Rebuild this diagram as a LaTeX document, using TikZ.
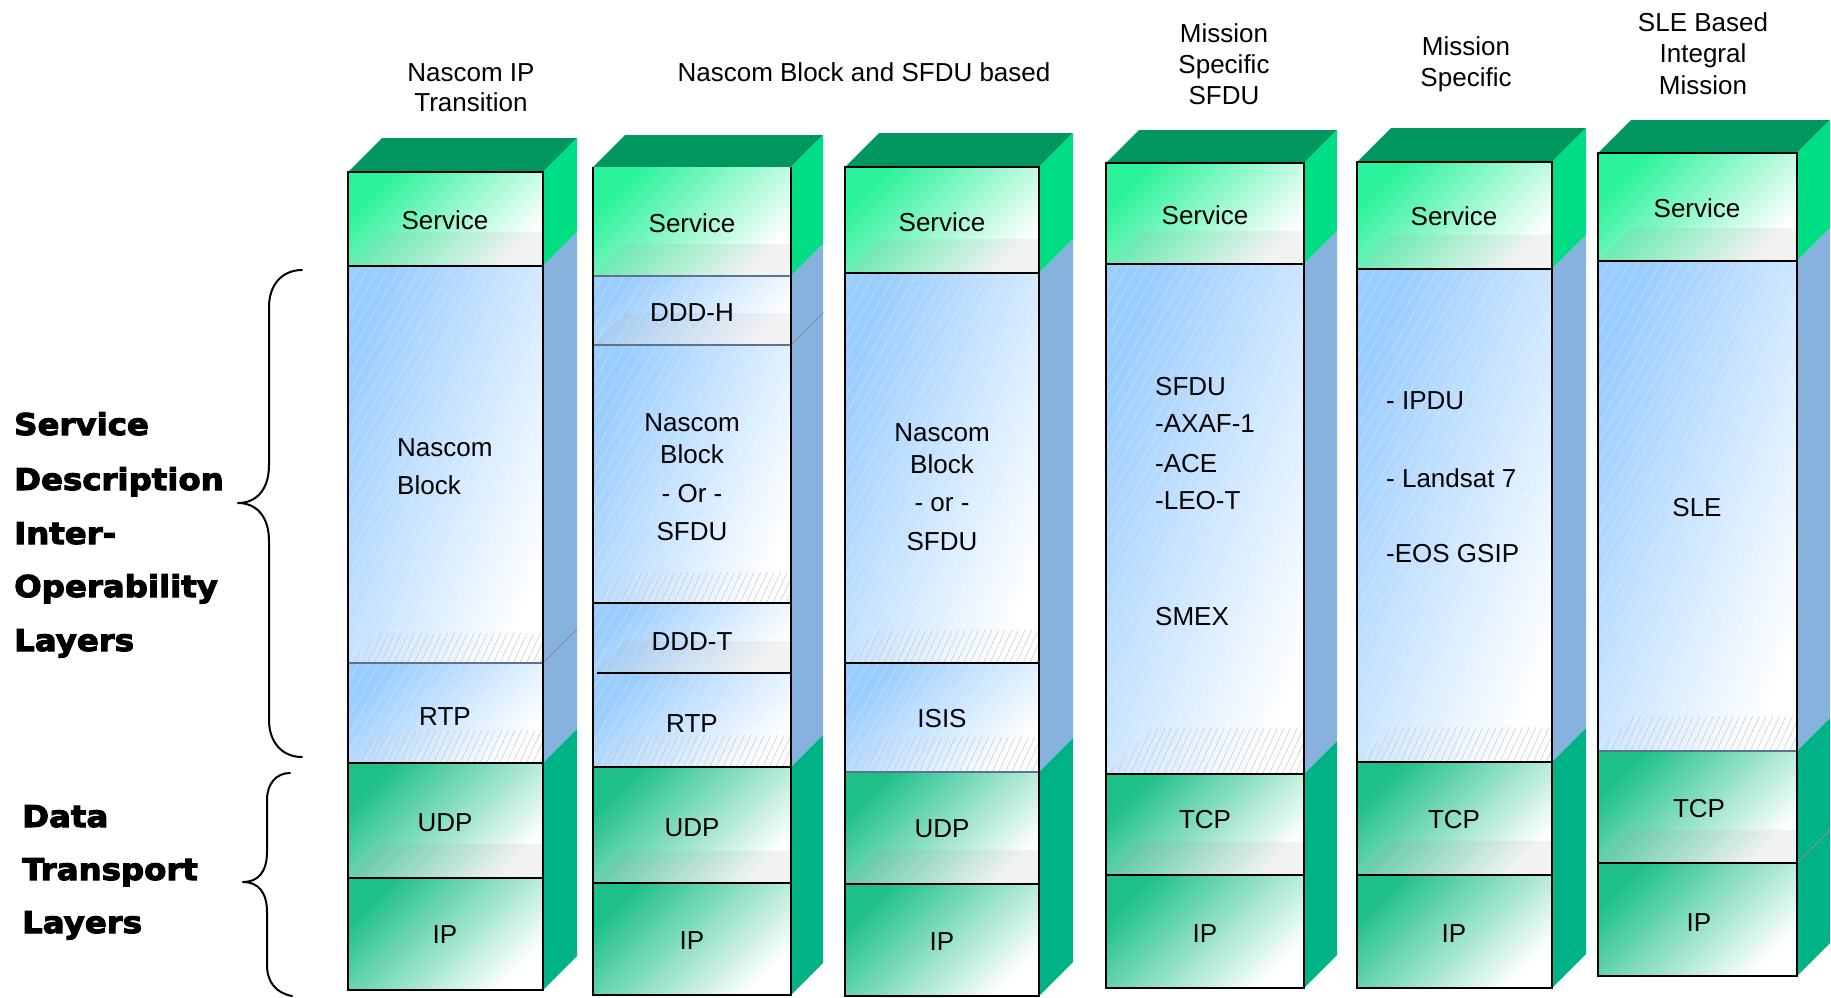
\documentclass[tikz,border=0pt]{standalone}
\usepackage{fontspec}
\setmainfont{Liberation Sans}
\newfontfamily\sidefont[FakeStretch=1.08,FakeBold=3.5]{DejaVu Sans Bold}
\usetikzlibrary{patterns.meta,shadings}

\definecolor{topC}{HTML}{00965F}
\definecolor{sideSvc}{HTML}{00DE85}
\definecolor{sideBlue}{HTML}{88B2DE}
\definecolor{sideNet}{HTML}{00B386}
\definecolor{svcC}{HTML}{2AF29A}
\definecolor{blueC}{HTML}{99CCFF}
\definecolor{netC}{HTML}{1EC08A}
\definecolor{sepSoft}{HTML}{5C7290}

% top face of a stack: left, right, top, depth
\newcommand{\topface}[4]{\fill[topC] (#1,#3) -- ++(#4,-#4) -- ({#2+#4},{#3-#4}) -- (#2,#3) -- cycle;}
% right-hand side face segment: right, depth, y1, y2, colour
\newcommand{\sideface}[5]{\fill[#5] (#1,#3) -- ++(#2,-#2) -- ++(0,{#4-#3}) -- (#1,#4) -- cycle;}
% shaded front of one layer: left, right, y1, y2, style
\newcommand{\frontlayer}[5]{\shade[#5] (#1,#3) rectangle (#2,#4);}
% white sheen lines on a blue layer: left, right, y1, y2
\newcommand{\sheen}[4]{\path[pattern={Lines[angle=60,distance=9pt,line width=.5pt]},pattern color=white,opacity=.4] (#1,#3) rectangle (#2,#4);}
% floor of a layer seen through its front: left, right, height, y, style
\newcommand{\floorband}[5]{\path[#5] (#1,#4) -- ++(#3,-#3) -- (#2,{#4-#3}) -- (#2,#4) -- cycle;}
% separator between two layers: left, right, y, style
\newcommand{\sepline}[4]{\draw[#4] (#1,#3) -- (#2,#3);}

\tikzset{
  svcface/.style={shading=axis, top color=svcC, middle color=svcC!45!white, bottom color=white, shading angle=45},
  blueface/.style={shading=axis, top color=blueC, middle color=blueC!50!white, bottom color=white, shading angle=45},
  bluetall/.style={shading=axis, top color=blueC, middle color=blueC!45!white, bottom color=white, shading angle=68},
  netface/.style={shading=axis, top color=netC, middle color=netC!40!white, bottom color=white, shading angle=45},
  floorgray/.style={fill=black!40, fill opacity=0.12},
  floorhatch/.style={pattern={Lines[angle=65,distance=6pt,line width=.5pt]}, pattern color=black!22},
  hardsep/.style={line width=2.5pt, black},
  softsep/.style={line width=1.5pt, sepSoft},
  sideline/.style={line width=1pt, sepSoft!80},
  edge/.style={line width=2.5pt, black},
  lab/.style={font=\fontsize{26}{30}\selectfont, anchor=base, inner sep=0pt},
  labw/.style={lab, anchor=base west},
  sidelab/.style={font=\sidefont\fontsize{30}{36}\selectfont, anchor=base west, inner sep=0pt},
  brace/.style={line width=2pt, line cap=round, line join=round},
}

\begin{document}
\begin{tikzpicture}[x=1pt, y=-1pt]
\useasboundingbox (0,0) rectangle (1831,997);
\fill[white] (0,0) rectangle (1831,997);

% ---------- stack 1: Nascom IP transition ----------
\topface{348}{543}{172}{34}
\sideface{543}{34}{172}{266}{sideSvc}
\sideface{543}{34}{266}{763}{sideBlue}
\sideface{543}{34}{763}{990}{sideNet}
\draw[sideline] (543,663) -- ++(34,-34);
\frontlayer{348}{543}{172}{266}{svcface}
\frontlayer{348}{543}{266}{663}{bluetall}
\frontlayer{348}{543}{663}{763}{blueface}
\frontlayer{348}{543}{763}{878}{netface}
\frontlayer{348}{543}{878}{990}{netface}
\sheen{348}{543}{266}{763}
\floorband{348}{543}{34}{266}{floorgray}
\floorband{348}{543}{30}{663}{floorhatch}
\floorband{348}{543}{33}{763}{floorhatch}
\floorband{348}{543}{34}{878}{floorgray}
\sepline{348}{543}{266}{hardsep}
\sepline{348}{543}{663}{softsep}
\sepline{348}{543}{763}{hardsep}
\sepline{348}{543}{878}{hardsep}
\draw[edge] (348,172) rectangle (543,990);

% ---------- stack 2: Nascom block / SFDU with DDD ----------
\topface{593}{791}{167}{32}
\sideface{791}{32}{167}{276}{sideSvc}
\sideface{791}{32}{276}{767}{sideBlue}
\sideface{791}{32}{767}{995}{sideNet}
\draw[sideline] (791,345) -- ++(32,-32);
\frontlayer{593}{791}{167}{276}{svcface}
\frontlayer{593}{791}{276}{345}{blueface}
\frontlayer{593}{791}{345}{603}{bluetall}
\frontlayer{593}{791}{603}{673}{blueface}
\frontlayer{593}{791}{673}{767}{blueface}
\frontlayer{593}{791}{767}{883}{netface}
\frontlayer{593}{791}{883}{995}{netface}
\sheen{593}{791}{276}{767}
\floorband{593}{791}{32}{276}{floorgray}
\floorband{593}{791}{32}{345}{floorgray}
\floorband{593}{791}{31}{603}{floorhatch}
\floorband{593}{791}{32}{673}{floorgray}
\floorband{593}{791}{32}{767}{floorhatch}
\floorband{593}{791}{32}{883}{floorgray}
\sepline{593}{791}{276}{softsep}
\sepline{593}{791}{345}{softsep}
\sepline{593}{791}{603}{hardsep}
\sepline{597}{791}{673}{hardsep}
\sepline{593}{791}{767}{hardsep}
\sepline{593}{791}{883}{hardsep}
\draw[edge] (593,167) -- (593,995) -- (791,995) -- (791,167);

% ---------- stack 3: Nascom block / SFDU with ISIS ----------
\topface{845}{1039}{167}{34}
\sideface{1039}{34}{167}{273}{sideSvc}
\sideface{1039}{34}{273}{772}{sideBlue}
\sideface{1039}{34}{772}{996}{sideNet}
\frontlayer{845}{1039}{167}{273}{svcface}
\frontlayer{845}{1039}{273}{663}{bluetall}
\frontlayer{845}{1039}{663}{772}{blueface}
\frontlayer{845}{1039}{772}{884}{netface}
\frontlayer{845}{1039}{884}{996}{netface}
\sheen{845}{1039}{273}{772}
\floorband{845}{1039}{34}{273}{floorgray}
\floorband{845}{1039}{33}{663}{floorhatch}
\floorband{845}{1039}{35}{772}{floorhatch}
\floorband{845}{1039}{34}{884}{floorgray}
\sepline{845}{1039}{273}{hardsep}
\sepline{845}{1039}{663}{hardsep}
\sepline{845}{1039}{772}{softsep}
\sepline{845}{1039}{884}{hardsep}
\draw[edge] (845,167) rectangle (1039,996);

% ---------- stack 4: mission specific SFDU ----------
\topface{1106}{1304}{163}{33}
\sideface{1304}{33}{163}{264}{sideSvc}
\sideface{1304}{33}{264}{774}{sideBlue}
\sideface{1304}{33}{774}{988}{sideNet}
\frontlayer{1106}{1304}{163}{264}{svcface}
\frontlayer{1106}{1304}{264}{774}{bluetall}
\frontlayer{1106}{1304}{774}{875}{netface}
\frontlayer{1106}{1304}{875}{988}{netface}
\sheen{1106}{1304}{264}{774}
\floorband{1106}{1304}{33}{264}{floorgray}
\floorband{1106}{1304}{46}{774}{floorhatch}
\floorband{1106}{1304}{33}{875}{floorgray}
\sepline{1106}{1304}{264}{hardsep}
\sepline{1106}{1304}{774}{hardsep}
\sepline{1106}{1304}{875}{hardsep}
\draw[edge] (1106,163) rectangle (1304,988);

% ---------- stack 5: mission specific ----------
\topface{1357}{1552}{162}{34}
\sideface{1552}{34}{162}{269}{sideSvc}
\sideface{1552}{34}{269}{762}{sideBlue}
\sideface{1552}{34}{762}{988}{sideNet}
\frontlayer{1357}{1552}{162}{269}{svcface}
\frontlayer{1357}{1552}{269}{762}{bluetall}
\frontlayer{1357}{1552}{762}{875}{netface}
\frontlayer{1357}{1552}{875}{988}{netface}
\sheen{1357}{1552}{269}{762}
\floorband{1357}{1552}{34}{269}{floorgray}
\floorband{1357}{1552}{35}{762}{floorhatch}
\floorband{1357}{1552}{34}{875}{floorgray}
\sepline{1357}{1552}{269}{hardsep}
\sepline{1357}{1552}{762}{hardsep}
\sepline{1357}{1552}{875}{hardsep}
\draw[edge] (1357,162) rectangle (1552,988);

% ---------- stack 6: SLE based integral mission ----------
\topface{1598}{1797}{153}{33}
\sideface{1797}{33}{153}{261}{sideSvc}
\sideface{1797}{33}{261}{751}{sideBlue}
\sideface{1797}{33}{751}{976}{sideNet}
\draw[sideline] (1797,863) -- ++(33,-33);
\frontlayer{1598}{1797}{153}{261}{svcface}
\frontlayer{1598}{1797}{261}{751}{bluetall}
\frontlayer{1598}{1797}{751}{863}{netface}
\frontlayer{1598}{1797}{863}{976}{netface}
\sheen{1598}{1797}{261}{751}
\floorband{1598}{1797}{33}{261}{floorgray}
\floorband{1598}{1797}{35}{751}{floorhatch}
\floorband{1598}{1797}{33}{863}{floorgray}
\sepline{1598}{1797}{261}{hardsep}
\sepline{1598}{1797}{751}{softsep}
\sepline{1598}{1797}{863}{hardsep}
\draw[edge] (1598,153) rectangle (1797,976);

% ---------- column headings ----------
\node[lab] (h1a) at (471,81) {Nascom IP};
\node[lab] (h1b) at (471,111) {Transition};
\node[lab] (h2) at (864,81) {Nascom Block and SFDU based};
\node[lab] (h4a) at (1224,42) {Mission};
\node[lab] (h4b) at (1224,73) {Specific};
\node[lab] (h4c) at (1224,104) {SFDU};
\node[lab] (h5a) at (1466,55) {Mission};
\node[lab] (h5b) at (1466,86) {Specific};
\node[lab] (h6a) at (1703,31) {SLE Based};
\node[lab] (h6b) at (1703,62) {Integral};
\node[lab] (h6c) at (1703,94) {Mission};

% ---------- layer labels ----------
\node[lab] (s1svc) at (445,229) {Service};
\node[labw] (s1nb1) at (397,456) {Nascom};
\node[labw] (s1nb2) at (397,494) {Block};
\node[lab] (s1rtp) at (445,725) {RTP};
\node[lab] (s1udp) at (445,831) {UDP};
\node[lab] (s1ip) at (445,943) {IP};

\node[lab] (s2svc) at (692,232) {Service};
\node[lab] (s2dddh) at (692,321) {DDD-H};
\node[lab] (s2nb1) at (692,431) {Nascom};
\node[lab] (s2nb2) at (692,463) {Block};
\node[lab] (s2nb3) at (692,502) {- Or -};
\node[lab] (s2nb4) at (692,540) {SFDU};
\node[lab] (s2dddt) at (692,650) {DDD-T};
\node[lab] (s2rtp) at (692,732) {RTP};
\node[lab] (s2udp) at (692,836) {UDP};
\node[lab] (s2ip) at (692,949) {IP};

\node[lab] (s3svc) at (942,231) {Service};
\node[lab] (s3nb1) at (942,441) {Nascom};
\node[lab] (s3nb2) at (942,473) {Block};
\node[lab] (s3nb3) at (942,511) {- or -};
\node[lab] (s3nb4) at (942,550) {SFDU};
\node[lab] (s3isis) at (942,727) {ISIS};
\node[lab] (s3udp) at (942,837) {UDP};
\node[lab] (s3ip) at (942,950) {IP};

\node[lab] (s4svc) at (1205,224) {Service};
\node[labw] (s4l1) at (1155,395) {SFDU};
\node[labw] (s4l2) at (1155,432) {-AXAF-1};
\node[labw] (s4l3) at (1155,472) {-ACE};
\node[labw] (s4l4) at (1155,509) {-LEO-T};
\node[labw] (s4l5) at (1155,625) {SMEX};
\node[lab] (s4tcp) at (1205,828) {TCP};
\node[lab] (s4ip) at (1205,942) {IP};

\node[lab] (s5svc) at (1454,225) {Service};
\node[labw] (s5l1) at (1386,409) {- IPDU};
\node[labw] (s5l2) at (1386,487) {- Landsat 7};
\node[labw] (s5l3) at (1386,562) {-EOS GSIP};
\node[lab] (s5tcp) at (1454,828) {TCP};
\node[lab] (s5ip) at (1454,942) {IP};

\node[lab] (s6svc) at (1697,217) {Service};
\node[lab] (s6sle) at (1697,516) {SLE};
\node[lab] (s6tcp) at (1699,817) {TCP};
\node[lab] (s6ip) at (1699,931) {IP};

% ---------- group labels and braces ----------
\node[sidelab] (g1a) at (14,435) {Service};
\node[sidelab] (g1b) at (14,490) {Description};
\node[sidelab] (g1c) at (14,544) {Inter-};
\node[sidelab] (g1d) at (14,597) {Operability};
\node[sidelab] (g1e) at (14,651) {Layers};
\node[sidelab] (g2a) at (22,827) {Data};
\node[sidelab] (g2b) at (22,880) {Transport};
\node[sidelab] (g2c) at (22,933) {Layers};

\draw[brace] (302,270) .. controls (282,270) and (269,285) .. (269,307)
  -- (269,465) .. controls (269,490) and (256,503) .. (238,503)
  .. controls (256,503) and (269,516) .. (269,541)
  -- (269,720) .. controls (269,742) and (282,757) .. (302,757);
\draw[brace] (290,773) .. controls (276,773) and (267,784) .. (267,800)
  -- (267,852) .. controls (267,872) and (258,882) .. (243,882)
  .. controls (258,882) and (267,892) .. (267,912)
  -- (267,965) .. controls (267,982) and (276,993) .. (292,996);
\end{tikzpicture}
\end{document}
